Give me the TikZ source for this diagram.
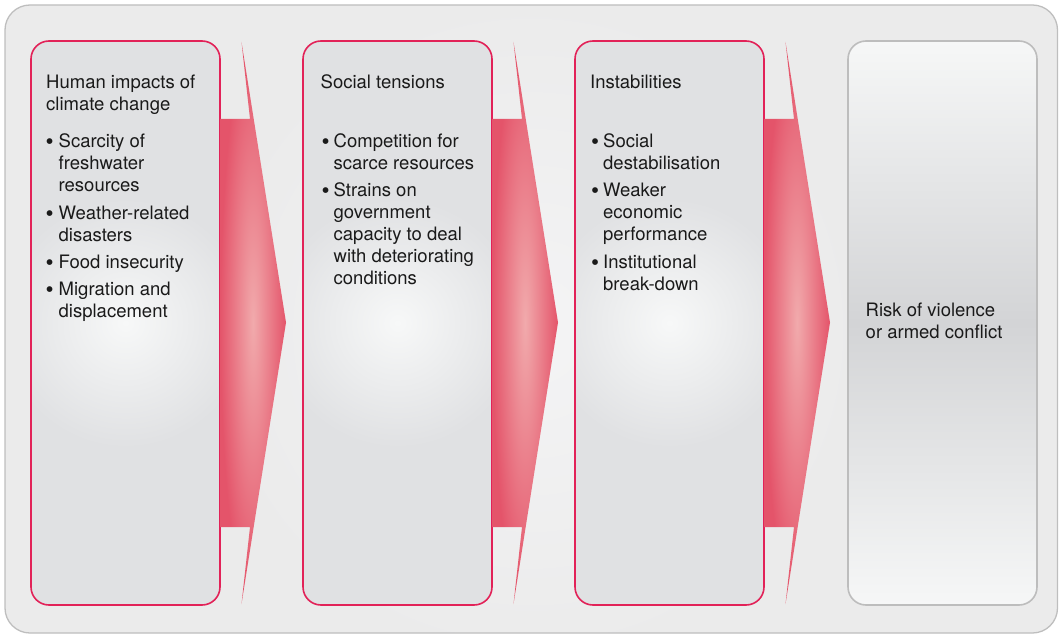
\documentclass[tikz,border=0pt]{standalone}
\usepackage{fontspec}
\setmainfont{TeX Gyre Heros}
\definecolor{crim}{RGB}{226,34,88}
\definecolor{ink}{RGB}{26,26,26}
\definecolor{outerbg}{RGB}{235,235,235}
\definecolor{outerglow}{RGB}{244,244,245}
\definecolor{outerline}{RGB}{190,190,190}
\definecolor{boxgray}{RGB}{224,225,227}
\definecolor{boxglow}{RGB}{247,248,248}
\definecolor{arrin}{RGB}{241,170,172}
\definecolor{arrout}{RGB}{228,84,106}
\definecolor{endtop}{RGB}{246,247,247}
\definecolor{endmid}{RGB}{211,212,214}
\definecolor{endline}{RGB}{189,189,189}
\begin{document}
\begin{tikzpicture}[x=1pt,y=-1pt,
  txt/.style={font=\fontsize{18.5}{22}\selectfont, text=ink, inner sep=0pt, anchor=base west},
  dot/.style={font=\fontsize{23}{22}\selectfont, text=ink, inner sep=0pt, anchor=base west, yshift=-2.2pt},
  boxline/.style={draw=crim, line width=1.6pt, rounded corners=18pt},
  arrowshape/.style={inner color=arrin, outer color=arrout}]
\useasboundingbox (0,0) rectangle (1059,636);
% outer panel
\fill[outerbg, rounded corners=25pt] (5,5) rectangle (1057.5,633);
\begin{scope}
  \clip[rounded corners=25pt] (5,5) rectangle (1057.5,633);
  \shade[inner color=outerglow, outer color=outerbg] (531,330) circle (330);
\end{scope}
\draw[outerline, line width=1.3pt, rounded corners=25pt] (5,5) rectangle (1057.5,633);
% three red-framed boxes
\foreach \o in {0,272,544}{
  \begin{scope}
    \clip[rounded corners=18pt] (31+\o,41) rectangle (220+\o,605);
    \fill[boxgray] (31+\o,41) rectangle (220+\o,605);
    \shade[inner color=boxglow, outer color=boxgray] (125.5+\o,323) circle (125);
  \end{scope}
  \draw[boxline] (31+\o,41) rectangle (220+\o,605);
  % arrow
  \shade[arrowshape] (220+\o,119) -- (250+\o,119) -- (241.5+\o,42) -- (286+\o,322.5)
     -- (241.5+\o,604) -- (250+\o,527) -- (220+\o,527) -- cycle;
}
% final box
\shade[top color=endtop, bottom color=endtop, middle color=endmid, rounded corners=18pt] (848,41) rectangle (1037,605);
\draw[endline, line width=1.6pt, rounded corners=18pt] (848,41) rectangle (1037,605);
% box 1 text
\node[txt] (t1a) at (46,88.3) {Human impacts of};
\node[txt] (t1b) at (46,110.5) {climate change};
\node[dot] (d1a) at (45.5,147.5) {\textbullet};
\node[txt] (l1a) at (58.5,147.5) {Scarcity of};
\node[txt] (l1b) at (58.5,169.8) {freshwater};
\node[txt] (l1c) at (58.5,192) {resources};
\node[dot] (d1b) at (45.5,219.3) {\textbullet};
\node[txt] (l1d) at (58.5,219.3) {Weather-related};
\node[txt] (l1e) at (58.5,241) {disasters};
\node[dot] (d1c) at (45.5,268.3) {\textbullet};
\node[txt] (l1f) at (58.5,268.3) {Food insecurity};
\node[dot] (d1d) at (45.5,295) {\textbullet};
\node[txt] (l1g) at (58.5,295) {Migration and};
\node[txt] (l1h) at (58.5,317) {displacement};
% box 2 text
\node[txt] (t2a) at (320.5,88.3) {Social tensions};
\node[dot] (d2a) at (321.5,147.3) {\textbullet};
\node[txt] (l2a) at (333.5,147.3) {Competition for};
\node[txt] (l2b) at (333.5,169.3) {scarce resources};
\node[dot] (d2b) at (321.5,196.7) {\textbullet};
\node[txt] (l2c) at (333.5,196.7) {Strains on};
\node[txt] (l2d) at (333.5,218.3) {government};
\node[txt] (l2e) at (333.5,240.2) {capacity to deal};
\node[txt] (l2f) at (333.5,262.3) {with deteriorating};
\node[txt] (l2g) at (333.5,284.2) {conditions};
% box 3 text
\node[txt] (t3a) at (590,88.3) {Instabilities};
\node[dot] (d3a) at (591,147.3) {\textbullet};
\node[txt] (l3a) at (603,147.3) {Social};
\node[txt] (l3b) at (603,169.3) {destabilisation};
\node[dot] (d3b) at (591,196.3) {\textbullet};
\node[txt] (l3c) at (603,196.3) {Weaker};
\node[txt] (l3d) at (603,218.3) {economic};
\node[txt] (l3e) at (603,240.2) {performance};
\node[dot] (d3c) at (591,268.3) {\textbullet};
\node[txt] (l3f) at (603,268.3) {Institutional};
\node[txt] (l3g) at (603,290.2) {break-down};
% box 4 text
\node[txt] (t4a) at (865.5,316.7) {Risk of violence};
\node[txt] (t4b) at (865.5,338.5) {or armed conflict};
\end{tikzpicture}
\end{document}
